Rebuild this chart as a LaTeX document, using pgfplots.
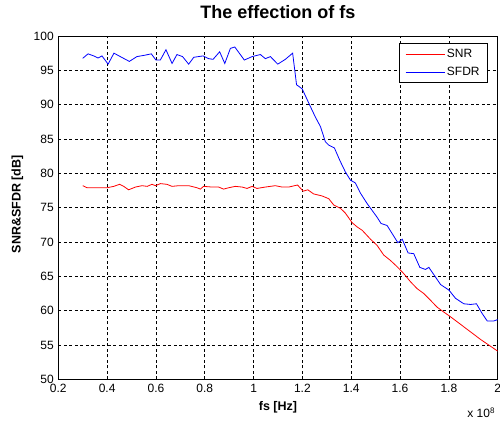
\documentclass[border=0pt]{standalone}
\usepackage{fontspec}
\setmainfont{Liberation Sans}
\usepackage{pgfplots}
\pgfplotsset{compat=1.18}

\begin{document}
\begin{tikzpicture}
    \begin{axis}[
        scale only axis,
        width=439.4pt,
        height=343.3pt,
        xmin=0.2, xmax=2,
        ymin=50, ymax=100,
        xtick={0.2,0.4,0.6,0.8,1,1.2,1.4,1.6,1.8,2},
        ytick={50,55,60,65,70,75,80,85,90,95,100},
        /pgf/number format/assume math mode=true,
        ticklabel style={font=\fontsize{12}{14}\selectfont},
        xticklabel style={yshift=-1pt},
        yticklabel style={xshift=-1pt},
        major tick length=0pt,
        grid=major,
        major grid style={black, line width=0.7pt, dash pattern=on 3pt off 2.5pt},
        axis line style={line width=0.9pt},
        title={The effection of fs},
        title style={font=\bfseries\fontsize{18}{20}\selectfont, at={(axis description cs:0.5,1)}, anchor=base, yshift=11pt},
        xlabel={fs [Hz]},
        xlabel style={font=\bfseries\fontsize{12.5}{14}\selectfont, at={(axis description cs:0.5,0)}, anchor=base, yshift=-31pt},
        ylabel={SNR\&SFDR [dB]},
        ylabel style={font=\bfseries\fontsize{12.5}{14}\selectfont, at={(axis description cs:-0.093,0.51)}, anchor=center},
        legend style={at={(axis description cs:0.978,0.979)}, anchor=north east,
            draw=black, line width=0.8pt, fill=white,
            font=\fontsize{12}{14}\selectfont,
            inner xsep=6pt, inner ysep=3.5pt, row sep=4pt},
        legend cell align=left,
        legend image code/.code={\draw[#1] (0pt,0pt) -- (39pt,0pt);},
    ]
    \addplot[color=red, line width=0.8pt] coordinates {
        (0.300,78.2) (0.318,77.9) (0.400,77.9) (0.427,78.1) (0.451,78.4)
        (0.468,78.1) (0.488,77.6) (0.516,78.0) (0.543,78.2) (0.564,78.1)
        (0.584,78.4) (0.598,78.2) (0.618,78.5) (0.645,78.4) (0.666,78.1)
        (0.693,78.2) (0.734,78.2) (0.768,77.9) (0.782,77.7) (0.795,78.1)
        (0.830,78.0) (0.857,78.0) (0.877,77.7) (0.898,77.9) (0.925,78.1)
        (0.953,78.0) (0.973,77.8) (0.994,78.1) (1.014,77.8) (1.048,78.0)
        (1.089,78.2) (1.117,78.0) (1.144,78.0) (1.180,78.3) (1.203,77.4)
        (1.222,77.6) (1.246,77.0) (1.281,76.7) (1.308,76.3) (1.328,75.4)
        (1.356,74.9) (1.376,74.2) (1.404,72.8) (1.424,72.2) (1.445,71.7)
        (1.479,70.4) (1.506,69.5) (1.533,68.1) (1.561,67.3) (1.588,66.4)
        (1.615,65.4) (1.643,64.2) (1.670,63.2) (1.697,62.5) (1.725,61.5)
        (1.752,60.5) (1.779,59.8) (1.807,59.1) (1.848,58.0) (1.889,56.9)
        (1.930,55.8) (1.963,55.0) (2.000,54.1)
    };
    \addplot[color=blue, line width=0.8pt] coordinates {
        (0.300,96.75) (0.322,97.4) (0.345,97.1) (0.363,96.8) (0.379,97.1)
        (0.404,95.9) (0.428,97.5) (0.454,97.0) (0.491,96.3) (0.522,97.0)
        (0.554,97.2) (0.581,97.4) (0.600,96.5) (0.618,96.5) (0.641,98.0)
        (0.666,96.0) (0.686,97.3) (0.709,97.0) (0.734,95.9) (0.755,96.9)
        (0.793,97.1) (0.816,96.7) (0.834,96.6) (0.861,97.7) (0.882,96.0)
        (0.905,98.2) (0.923,98.4) (0.962,96.5) (0.994,97.0) (1.028,97.3)
        (1.048,96.7) (1.069,97.0) (1.099,95.9) (1.130,96.6) (1.160,97.5)
        (1.176,92.9) (1.199,92.3) (1.233,89.7) (1.253,88.2) (1.274,86.8)
        (1.294,84.6) (1.308,84.1) (1.331,83.7) (1.353,81.9) (1.376,80.2)
        (1.397,79.0) (1.417,78.6) (1.438,77.1) (1.465,75.6) (1.506,73.6)
        (1.522,72.7) (1.547,72.4) (1.568,71.2) (1.591,69.9) (1.609,70.4)
        (1.633,68.4) (1.656,68.3) (1.681,66.3) (1.704,66.0) (1.718,66.3)
        (1.745,64.9) (1.766,63.8) (1.800,63.0) (1.827,61.8) (1.861,61.0)
        (1.889,60.9) (1.913,61.0) (1.936,59.6) (1.957,58.5) (1.984,58.5)
        (2.000,58.7)
    };
    \legend{SNR, SFDR}
    \coordinate (sw) at (rel axis cs:0,0);
    \coordinate (se) at (rel axis cs:1,0);
    \coordinate (ne) at (rel axis cs:1,1);
    \end{axis}
    \node[anchor=base east, font=\fontsize{12}{14}\selectfont, inner sep=0pt]
        at ([shift={(-2.5pt,-38.5pt)}]se) {x 10\textsuperscript{8}};
    \pgfresetboundingbox
    \path[use as bounding box] ([shift={(-58.3pt,-41.7pt)}]sw) rectangle ([shift={(2.3pt,36pt)}]ne);
\end{tikzpicture}
\end{document}
